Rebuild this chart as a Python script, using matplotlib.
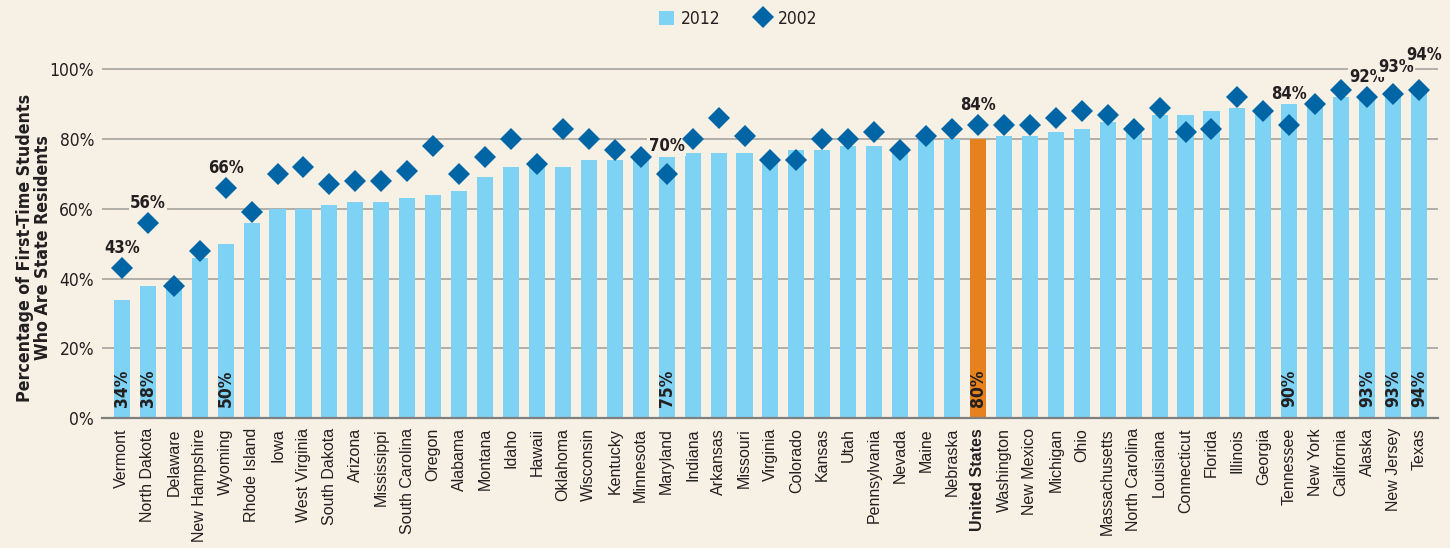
import matplotlib
matplotlib.use('Agg')
import matplotlib.pyplot as plt
from matplotlib.patches import Patch
from matplotlib.lines import Line2D

states = ['Vermont', 'North Dakota', 'Delaware', 'New Hampshire', 'Wyoming',
          'Rhode Island', 'Iowa', 'West Virginia', 'South Dakota', 'Arizona',
          'Mississippi', 'South Carolina', 'Oregon', 'Alabama', 'Montana',
          'Idaho', 'Hawaii', 'Oklahoma', 'Wisconsin', 'Kentucky', 'Minnesota',
          'Maryland', 'Indiana', 'Arkansas', 'Missouri', 'Virginia', 'Colorado',
          'Kansas', 'Utah', 'Pennsylvania', 'Nevada', 'Maine', 'Nebraska',
          'United States', 'Washington', 'New Mexico', 'Michigan', 'Ohio',
          'Massachusetts', 'North Carolina', 'Louisiana', 'Connecticut',
          'Florida', 'Illinois', 'Georgia', 'Tennessee', 'New York',
          'California', 'Alaska', 'New Jersey', 'Texas']

# share of first-time students who are state residents (%)
pct_2012 = [34, 38, 39, 46, 50, 56, 60, 60, 61, 62, 62, 63, 64, 65, 69,
            72, 73, 72, 74, 74, 75, 75, 76, 76, 76, 75, 77, 77, 78, 78,
            78, 80, 80, 80, 81, 81, 82, 83, 85, 84, 87, 87, 88, 89, 89,
            90, 91, 92, 93, 93, 94]
pct_2002 = [43, 56, 38, 48, 66, 59, 70, 72, 67, 68, 68, 71, 78, 70, 75,
            80, 73, 83, 80, 77, 75, 70, 80, 86, 81, 74, 74, 80, 80, 82,
            77, 81, 83, 84, 84, 84, 86, 88, 87, 83, 89, 82, 83, 92, 88,
            84, 90, 94, 92, 93, 94]

# states whose values get printed
labelled = ['Vermont', 'North Dakota', 'Wyoming', 'Maryland', 'United States',
            'Tennessee', 'Alaska', 'New Jersey', 'Texas']
total_name = 'United States'

BG = '#F7F1E5'
LIGHT = '#7ED3F5'
ORANGE = '#E6821E'
DARK = '#0065A4'
TXT = '#231F20'
NARROW = dict(fontfamily=['DejaVu Sans', 'Liberation Sans'],
              fontstretch='condensed')

fig = plt.figure(figsize=(14.5, 5.48), dpi=100, facecolor=BG)
ax = fig.add_axes([0.0701, 0.2367, 0.9216, 0.6432])
ax.set_facecolor(BG)

x = list(range(len(states)))
bar_colors = [ORANGE if s == total_name else LIGHT for s in states]
ax.bar(x, pct_2012, width=0.62, color=bar_colors, zorder=2)
ax.plot(x, pct_2002, linestyle='none', marker='D', markersize=11,
        color=DARK, markeredgewidth=0, zorder=4)

ax.set_xlim(-0.78, 50.73)
ax.set_ylim(0, 101)

ax.set_yticks(range(0, 101, 20))
ax.set_yticklabels([f'{v}%' for v in range(0, 101, 20)],
                   fontsize=12.5, color=TXT, **NARROW)
ax.yaxis.grid(True, color='#A5A3A0', linewidth=1.2, zorder=0)
ax.set_axisbelow(True)

ax.set_xticks(x)
ax.set_xticklabels(states, rotation=90, fontfamily='Liberation Sans',
                   fontsize=11.5, color=TXT, va='top', ha='center')
for lab in ax.get_xticklabels():
    if lab.get_text() == total_name:
        lab.set_fontweight('bold')

ax.tick_params(axis='both', length=0)
ax.tick_params(axis='y', pad=5.5)
ax.tick_params(axis='x', pad=7)
for side in ['top', 'right', 'left']:
    ax.spines[side].set_visible(False)
ax.spines['bottom'].set_color('#7F7F7F')
ax.spines['bottom'].set_linewidth(1.6)

# crowded labels at the right end get lifted and nudged sideways
stagger = {'New Jersey': (0.12, 2.0), 'Texas': (0.2, 4.4)}
for i, s in enumerate(states):
    if s not in labelled:
        continue
    dx, dy = stagger.get(s, (0, 0))
    top = max(pct_2002[i] + 5.7, pct_2012[i] + 3.0) + dy
    ax.text(i + dx, top, f'{pct_2002[i]}%', ha='center', va='center',
            fontsize=12, fontweight='bold', color=TXT,
            zorder=3, clip_on=False,
            bbox=dict(boxstyle='square,pad=0.08', fc=BG, ec='none'),
            **NARROW)
    ax.text(i, 3.2, f'{pct_2012[i]}%', ha='center', va='bottom',
            rotation=90, fontsize=12.5, fontweight='bold',
            color=TXT, zorder=5, **NARROW)

fig.text(0.0235, 0.548, 'Percentage of First-Time Students\nWho Are State Residents',
         rotation=90, ha='center', va='center', multialignment='center',
         fontsize=12.8, fontweight='bold', color=TXT,
         linespacing=1.0, **NARROW)

handles = [Patch(facecolor=LIGHT, edgecolor='none'),
           Line2D([], [], linestyle='none', marker='D', markersize=11,
                  color=DARK, markeredgewidth=0)]
fig.legend(handles, ['2012', '2002'], loc='center',
           bbox_to_anchor=(0.509, 1 - 19 / 548), ncol=2, frameon=False,
           prop={'family': NARROW['fontfamily'], 'stretch': 'condensed',
                 'size': 12.5},
           labelcolor=TXT, handlelength=0.9, handleheight=0.9,
           handletextpad=0.4, columnspacing=2.0)

fig.savefig('out.png', dpi=100, facecolor=BG)
